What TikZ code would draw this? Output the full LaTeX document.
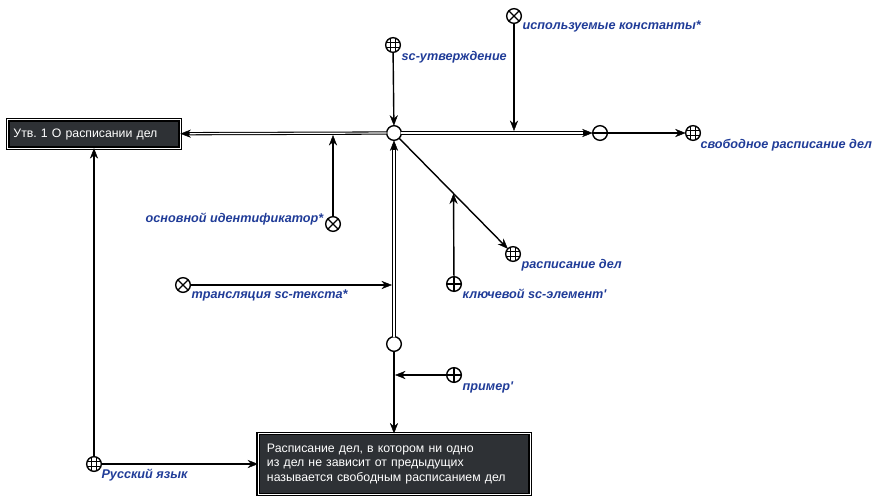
\documentclass[tikz,border=0pt]{standalone}
\usepackage{fontspec}
\setmainfont{Liberation Sans}
\usepackage{tikz}
\usetikzlibrary{arrows.meta,positioning,calc}
\definecolor{scblue}{RGB}{32,60,152}
\definecolor{scgray}{RGB}{46,49,53}

\begin{document}
\begin{tikzpicture}[x=0.03cm,y=-0.03cm]

        \tikzstyle{every node}=[inner sep=0pt,outer sep=0pt]
        \tikzstyle{knot}=[circle,draw,line width=1.2pt,minimum size=0.44cm,fill=white]
        \tikzstyle{klass}=[knot,path picture={
            \foreach \d in {-2.3pt,2.3pt}{
              \draw[line width=0.6pt] ([xshift=\d]path picture bounding box.north) -- ([xshift=\d]path picture bounding box.south);
              \draw[line width=0.6pt] ([yshift=\d]path picture bounding box.west) -- ([yshift=\d]path picture bounding box.east);}}]
        \tikzstyle{norole}=[knot,path picture={
            \draw[line width=1.1pt] (path picture bounding box.north west) -- (path picture bounding box.south east)
                  (path picture bounding box.south west) -- (path picture bounding box.north east);}]
        \tikzstyle{posrole}=[knot,path picture={
            \draw[line width=1.1pt] (path picture bounding box.north) -- (path picture bounding box.south)
                  (path picture bounding box.west) -- (path picture bounding box.east);}]
        \tikzstyle{negknot}=[knot,path picture={
            \draw[line width=1.1pt] (path picture bounding box.west) -- (path picture bounding box.east);}]
        \tikzstyle{lbl}=[text=scblue,font=\fontsize{10.8}{13}\selectfont\bfseries\itshape]
        \tikzstyle{sheet}=[fill=scgray,text=white,draw=black,line width=1.3pt,double=white,
            double distance=0.6pt,align=left,font=\fontsize{10.5}{12.5}\selectfont]
        \tikzstyle{link}=[line width=1.2pt,-{Stealth[length=9pt,width=7pt,inset=3pt,line width=0.4pt]}]
        \tikzstyle{pair}=[line width=2.8pt,-{Stealth[length=9pt,width=7pt,inset=3pt,line width=0.4pt]},
            postaction={draw=white,line width=1pt,-,shorten >=8pt}]

        \useasboundingbox (0,0) rectangle (886,503);

        % main nodes
        \node[sheet,text width=4.83cm,inner xsep=5pt,minimum height=0.85cm] (U) at (94,134) {Утв.\ 1 О расписании дел};
        \node[knot] (C) at (394,133) {};
        \node[knot] (E) at (394,344) {};
        \node[negknot] (M) at (600,133) {};
        \node[sheet,text width=7.62cm,inner xsep=7.6pt,minimum height=1.83cm] (T) at (394,464)
            {Расписание дел, в котором ни одно\\из дел не зависит от предыдущих\\называется свободным расписанием дел};

        % concepts and relations
        \node[klass] (S) at (393,45) {};
        \node[norole] (K) at (514,16) {};
        \node[klass] (F) at (693,133) {};
        \node[norole] (O) at (333,224) {};
        \node[klass] (R) at (513,254) {};
        \node[posrole] (Q) at (454,284) {};
        \node[norole] (L) at (183,285) {};
        \node[posrole] (P) at (454,375) {};
        \node[klass] (Y) at (94,464) {};

        % labels
        \node[lbl,below right=1pt and 3pt of S] (Ls) {sc-утверждение};
        \node[lbl,below right=0pt and 3pt of K] (Lk) {используемые константы*};
        \node[lbl,below right=1pt and 2pt of F] (Lf) {свободное расписание дел};
        \node[lbl,left=2pt of O,yshift=4pt] (Lo) {основной идентификатор*};
        \node[lbl,below right=0pt and 3pt of R] (Lr) {расписание дел};
        \node[lbl,below right=0pt and 3pt of Q] (Lq) {ключевой sc-элемент\textquotesingle};
        \node[lbl,below right=0pt and 3pt of L] (Ll) {трансляция sc-текста*};
        \node[lbl,below right=1pt and 3pt of P] (Lp) {пример\textquotesingle};
        \node[lbl,below right=0pt and 2pt of Y] (Ly) {Русский язык};

        % junctions
        \coordinate (jk) at (514,131);
        \coordinate (jo) at (333,135);
        \coordinate (jr) at ($(C)!0.5!(R)$);
        \coordinate (jl) at (392,285);
        \coordinate (jp) at (395,375);

        % arcs
        \draw[pair] (C) -- (U);
        \draw[pair] (C) -- (M);
        \draw[pair] (E) -- (C);
        \draw[link] (S) -- (C);
        \draw[link] (M) -- (F);
        \draw[link] (C) -- (R);
        \draw[link] (E) -- (T);
        \draw[link] (K) -- (jk);
        \draw[link] (O) -- (jo);
        \draw[link] (Q) -- (jr);
        \draw[link] (L) -- (jl);
        \draw[link] (P) -- (jp);
        \draw[link] (Y) -- (U);
        \draw[link] (Y) -- (T);

\end{tikzpicture}
\end{document}
